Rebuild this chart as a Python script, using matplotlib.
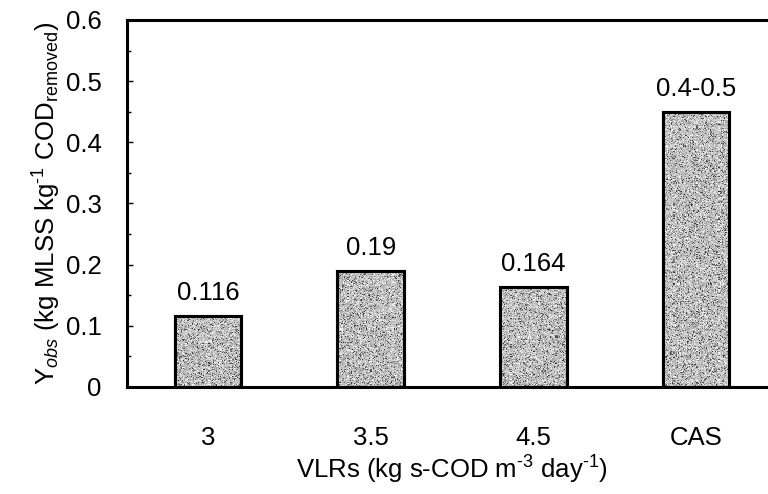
import numpy as np
import matplotlib
matplotlib.use("Agg")
import matplotlib.pyplot as plt
from matplotlib.ticker import MultipleLocator, FuncFormatter

plt.rcParams['font.family'] = ['Liberation Sans', 'DejaVu Sans']
plt.rcParams['mathtext.fontset'] = 'custom'
plt.rcParams['mathtext.rm'] = 'Liberation Sans'
plt.rcParams['mathtext.it'] = 'Liberation Sans:italic'

# rendimiento observado por carga volumetrica
categories = ["3", "3.5", "4.5", "CAS"]
yields = [0.116, 0.19, 0.164, 0.45]
value_labels = ["0.116", "0.19", "0.164", "0.4-0.5"]

FS = 18.5

fig = plt.figure(figsize=(7.68, 4.94), dpi=100)
ax = fig.add_axes([0.165, 0.2166, 0.847, 0.743])

x = np.arange(len(categories))
bars = ax.bar(x, yields, width=0.41, facecolor="#b4b4b4", edgecolor="black",
              linewidth=2.2, zorder=2)

# textura granulada dentro de cada barra
rng = np.random.default_rng(3)
for b in bars:
    bx, by = b.get_x(), b.get_y()
    w, h = b.get_width(), b.get_height()
    tex = rng.normal(0.76, 0.11, size=(int(h * 600) + 2, 64))
    dark = rng.random(tex.shape) < 0.10
    tex[dark] = rng.uniform(0.2, 0.45, size=dark.sum())
    tex = np.clip(tex, 0.0, 1.0)
    im = ax.imshow(tex, cmap="gray", vmin=0, vmax=1, extent=(bx, bx + w, by, by + h),
                   aspect="auto", interpolation="nearest", zorder=2.5)
    im.set_clip_path(b)
    ax.bar(bx + w / 2, h, width=w, facecolor="none", edgecolor="black",
           linewidth=2.2, zorder=3)

for xi, v, lab in zip(x, yields, value_labels):
    ax.annotate(lab, (xi, v), xytext=(0, 8), textcoords="offset points",
                ha="center", va="bottom", fontsize=FS)

ax.set_xlim(-0.5, 3.5)
ax.set_ylim(0, 0.6)
ax.set_xticks(x)
ax.set_xticklabels(categories)
ax.yaxis.set_major_locator(MultipleLocator(0.1))
ax.yaxis.set_minor_locator(MultipleLocator(0.05))
ax.yaxis.set_major_formatter(FuncFormatter(lambda v, p: "0" if abs(v) < 1e-9 else f"{v:.1f}"))
ax.tick_params(axis="y", which="major", direction="in", length=4, width=1, labelsize=FS, pad=18)
ax.tick_params(axis="y", which="minor", direction="in", length=3, width=1)
ax.tick_params(axis="x", length=0, labelsize=FS, pad=28)

for s in ["left", "top", "bottom"]:
    ax.spines[s].set_linewidth(2.2)
ax.spines["right"].set_visible(False)

ax.set_xlabel("VLRs (kg s-COD m$^{\\text{-3}}$ day$^{\\text{-1}}$)", fontsize=FS, labelpad=3)
ax.set_ylabel("Y$_{obs}$ (kg MLSS kg$^{\\text{-1}}$ COD$_{\\rm removed}$)", fontsize=FS, labelpad=2)

fig.savefig("out.png", dpi=100)
